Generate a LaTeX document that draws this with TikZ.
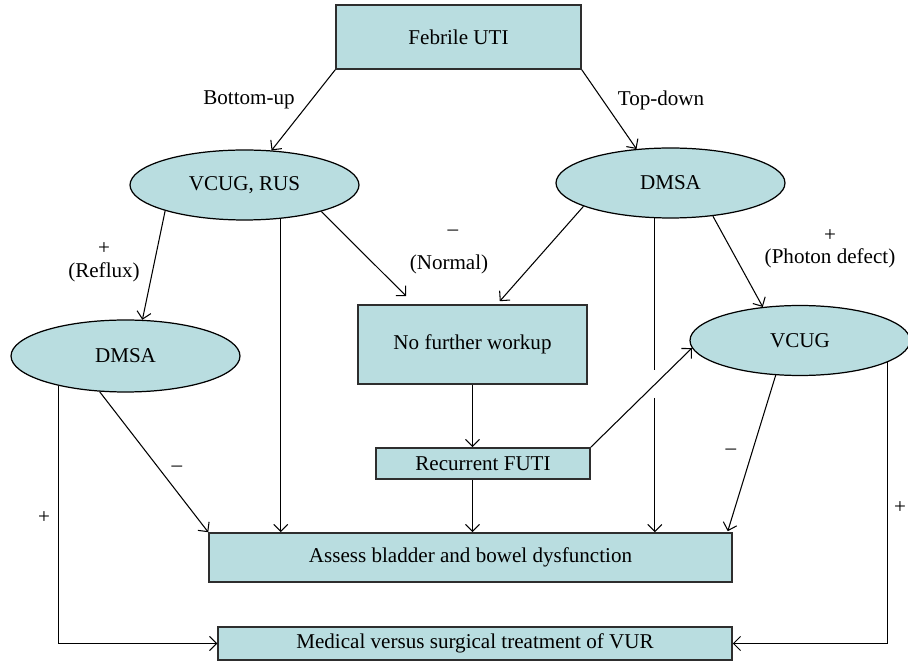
\documentclass[tikz,border=0pt]{standalone}
\usepackage{fontspec}
\setmainfont{Liberation Serif}
\usepackage{xcolor}
\usepackage{tikz}
\usetikzlibrary{calc,arrows.meta,shapes.geometric}
\definecolor{boxfill}{HTML}{B9DDE0}
\definecolor{edge}{HTML}{2E2E2E}
\tikzset{
  rectbox/.style={draw=edge, fill=boxfill, line width=0.9pt, inner sep=0pt},
  ovalbox/.style={ellipse, draw=black, fill=boxfill, line width=0.7pt, inner sep=0pt},
  arr/.style={draw=black, line width=0.6pt, -{Straight Barb[length=4pt,width=8pt]}},
  plain/.style={draw=black, line width=0.6pt},
  lab/.style={inner sep=0pt},
}

\begin{document}
\begin{tikzpicture}[x=0.02cm, y=-0.02cm, font=\fontsize{12}{14}\selectfont]
\useasboundingbox (0,0) rectangle (908,661);

\node[rectbox, minimum width=4.9cm, minimum height=1.28cm] (febrile) at (458.5,37) {Febrile UTI};
\node[ovalbox, minimum width=4.58cm, minimum height=1.4cm] (vcugrus) at (244.5,185) {VCUG, RUS};
\node[ovalbox, minimum width=4.58cm, minimum height=1.4cm] (dmsaR) at (670.5,183) {DMSA};
\node[ovalbox, minimum width=4.58cm, minimum height=1.44cm] (dmsaL) at (125.5,356) {DMSA};
\node[ovalbox, minimum width=4.4cm, minimum height=1.4cm] (vcugR) at (800,340.5) {VCUG};
\node[rectbox, minimum width=4.58cm, minimum height=1.58cm] (nowork) at (472.5,344.5) {No further workup};
\node[rectbox, minimum width=4.28cm, minimum height=0.62cm] (recur) at (483,463.5) {Recurrent FUTI};
\node[rectbox, minimum width=10.46cm, minimum height=0.98cm] (assess) at (470.5,557.5) {Assess bladder and bowel dysfunction};
\node[rectbox, minimum width=10.28cm, minimum height=0.66cm] (medical) at (475,643.5) {Medical versus surgical treatment of VUR};

\node[lab] (bu) at (249,100) {Bottom-up};
\node[lab] (td) at (661,100) {Top-down};
\node[lab] (refluxsign) at (104,249) {+};
\node[lab] (reflux) at (104,272) {(Reflux)};
\node[lab] (normalsign) at (453,233) {–};
\node[lab] (normal) at (449,264) {(Normal)};
\node[lab] (photonsign) at (830,236) {+};
\node[lab] (photon) at (830,258) {(Photon defect)};
\node[lab] (minusL) at (177,469) {–};
\node[lab] (minusR) at (731,452) {–};
\node[lab] (plusL) at (44,518) {+};
\node[lab] (plusR) at (900,508) {+};

\coordinate (gapA) at (dmsaR.246 |- 0,370);
\coordinate (gapB) at (dmsaR.246 |- 0,398);

\draw[arr] (febrile.south west) -- (vcugrus.52);
\draw[arr] (febrile.south east) -- (dmsaR.135);
\draw[arr] (vcugrus.198) -- (dmsaL.65);
\draw[arr] (vcugrus.341) -- ($(nowork.north west)+(49,-8)$);
\draw[arr] (vcugrus.317) -- (vcugrus.317 |- assess.north);
\draw[arr] (dmsaR.195) -- ($(nowork.north east)+(-88,-3)$);
\draw[arr] (dmsaR.322) -- (vcugR.138);
\draw[plain] (dmsaR.246) -- (gapA);
\draw[arr] (gapB) -- (gapB |- assess.north);
\draw[arr] (dmsaL.234) -- (assess.north west);
\draw[arr] (dmsaL.204) |- (medical.west);
\draw[arr] (vcugR.346) |- (medical.east);
\draw[arr] (vcugR.235) -- ($(assess.north east)+(-5,-1)$);
\draw[arr] (nowork.south) -- (nowork.south |- recur.north);
\draw[arr] (nowork.south |- recur.south) -- (nowork.south |- assess.north);
\draw[arr] (recur.north east) -- (vcugR.184);
\end{tikzpicture}
\end{document}
